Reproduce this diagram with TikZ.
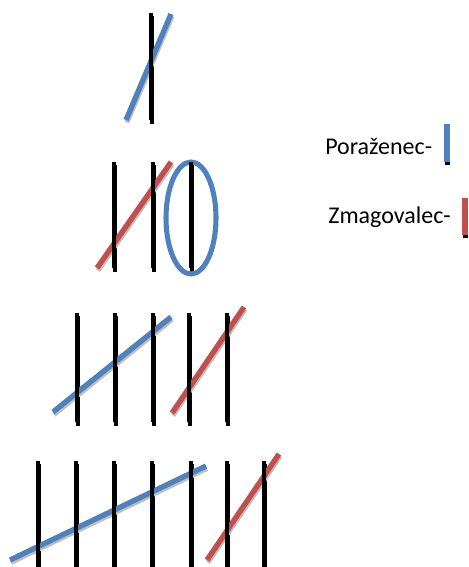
\documentclass[tikz,border=0pt]{standalone}
\usepackage{fontspec}
\setmainfont{Carlito}
\definecolor{loser}{HTML}{4F81BD}
\definecolor{winner}{HTML}{C0504D}
\definecolor{shade}{HTML}{A8A8A8}
\definecolor{softshade}{HTML}{BEBEBE}
\begin{document}
\begin{tikzpicture}[x=0.75pt,y=-0.75pt,
  tally/.style={line width=3pt,black},
  tallyshadow/.style={line width=3pt,shade},
  slash/.style={line width=4pt},
  shadowline/.style={line width=3.6pt,softshade},
  label/.style={font=\fontsize{18pt}{20pt}\selectfont,anchor=base west,inner sep=0pt}]
\useasboundingbox (0,0) rectangle (468,567);
\clip (0,0) rectangle (468,567);

% gray shadows of the tally strokes (only their lower tips show)
\foreach \x in {151} \draw[tallyshadow] (\x+0.5,16) -- (\x+0.5,123.5);
\foreach \x in {114,153,191} \draw[tallyshadow] (\x+0.5,165) -- (\x+0.5,271.5);
\foreach \x in {77,115,153,189,227} \draw[tallyshadow] (\x+0.5,316) -- (\x+0.5,425.5);
\foreach \x in {38,76,114,152,191,227,264} \draw[tallyshadow] (\x+0.5,464) -- (\x+0.5,575);

% single stroke group
\draw[shadowline] (127,122.5) -- (172,16.5);
\draw[slash,loser] (126,120) -- (171,14);
\draw[tally] (151,13) -- (151,120);

% two strokes and a circled one
\draw[shadowline] (98,270.5) -- (172,164.5);
\draw[slash,winner] (97,268) -- (171,162);
\draw[line width=3.8pt,loser] (191,218) ellipse [x radius=25,y radius=56];
\foreach \x in {114,153,191} \draw[tally] (\x,162) -- (\x,268);

% five strokes
\draw[shadowline] (54,414.5) -- (172,319.5);
\draw[shadowline] (173,415.5) -- (245,309.5);
\draw[slash,loser] (53,412) -- (171,317);
\draw[slash,winner] (172,413) -- (244,307);
\foreach \x in {77,115,153,189,227} \draw[tally] (\x,313) -- (\x,422);

% seven strokes
\draw[shadowline] (11,562.5) -- (207,468.5);
\draw[shadowline] (208,562.5) -- (280,456.5);
\draw[slash,loser] (10,560) -- (206,466);
\draw[slash,winner] (207,560) -- (279,454);
\foreach \x in {38,76,114,152,191,227,264} \draw[tally] (\x,461) -- (\x,572);

% legend
\node[label] (loserlabel) at (325,154) {Poraženec-};
\draw[line width=3.8pt,shade] (447.5,127) -- (447.5,165);
\draw[line width=3.8pt,loser] (447,124) -- (447,162);
\begin{scope}
  \clip (300,195) rectangle (468,226);
  \node[label] (winnerlabel) at (328,223) {Zmagovalec-};
\end{scope}
\draw[line width=3.8pt,shade] (465.5,201) -- (465.5,238);
\draw[line width=3.8pt,winner] (465,198) -- (465,235);
\end{tikzpicture}
\end{document}
